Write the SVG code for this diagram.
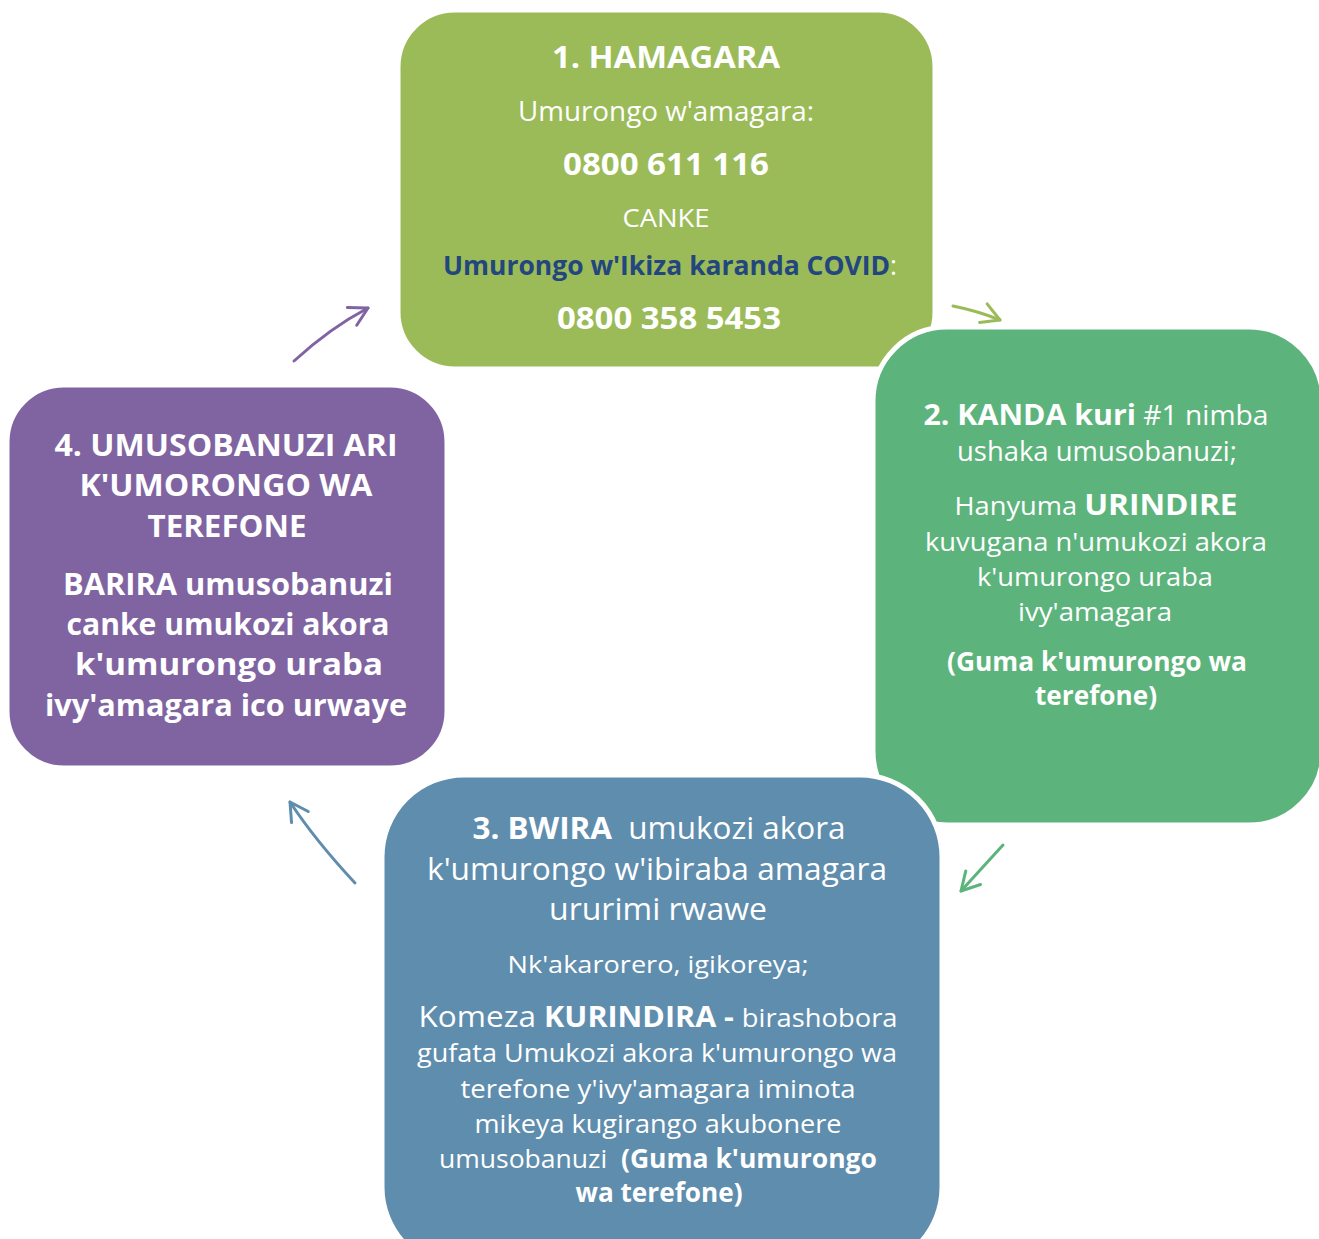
<svg xmlns="http://www.w3.org/2000/svg" width="1319" height="1239" viewBox="0 0 1319 1239">
<defs>
<style>
text{font-family:"Open Sans","Noto Sans","Liberation Sans",sans-serif;fill:#ffffff;text-anchor:middle}
.b{font-weight:bold}
.pre{white-space:pre}
.box{stroke:#ffffff;stroke-width:5}
.conn{fill:none;stroke-width:3;stroke-linecap:round}
</style>
<marker id="hG1" markerUnits="userSpaceOnUse" markerWidth="30" markerHeight="30" refX="0" refY="0" orient="auto" overflow="visible"><path d="M-18,-10 L0,0 L-18,10" fill="none" stroke="#9BBB59" stroke-width="3" stroke-linecap="round" stroke-linejoin="round"/></marker>
<marker id="hG2" markerUnits="userSpaceOnUse" markerWidth="30" markerHeight="30" refX="0" refY="0" orient="auto" overflow="visible"><path d="M-18,-10 L0,0 L-18,10" fill="none" stroke="#5DB37C" stroke-width="3" stroke-linecap="round" stroke-linejoin="round"/></marker>
<marker id="hB" markerUnits="userSpaceOnUse" markerWidth="30" markerHeight="30" refX="0" refY="0" orient="auto" overflow="visible"><path d="M-18,-10 L0,0 L-18,10" fill="none" stroke="#5F8DAD" stroke-width="3" stroke-linecap="round" stroke-linejoin="round"/></marker>
<marker id="hP" markerUnits="userSpaceOnUse" markerWidth="30" markerHeight="30" refX="0" refY="0" orient="auto" overflow="visible"><path d="M-18,-10 L0,0 L-18,10" fill="none" stroke="#8064A2" stroke-width="3" stroke-linecap="round" stroke-linejoin="round"/></marker>
</defs>
<rect width="1319" height="1239" fill="#ffffff"/>

<g id="node1">
<rect class="box" x="398" y="10" width="537" height="359" rx="57" fill="#9BBB59"/>
<text x="666" y="68" class="b" font-size="30" textLength="228" lengthAdjust="spacingAndGlyphs">1. HAMAGARA</text>
<text x="666" y="121" font-size="27" textLength="296" lengthAdjust="spacingAndGlyphs">Umurongo w'amagara:</text>
<text x="666" y="175" class="b" font-size="31" textLength="206" lengthAdjust="spacingAndGlyphs">0800 611 116</text>
<text x="666" y="227" font-size="25" textLength="87" lengthAdjust="spacingAndGlyphs">CANKE</text>
<text x="670" y="275" font-size="27" textLength="454" lengthAdjust="spacingAndGlyphs"><tspan class="b" style="fill:#23467E">Umurongo w'Ikiza karanda COVID</tspan>:</text>
<text x="669" y="329" class="b" font-size="31" textLength="224" lengthAdjust="spacingAndGlyphs">0800 358 5453</text>
</g>

<g id="node2">
<rect class="box" x="873" y="327" width="450" height="498" rx="74" fill="#5DB37C"/>
<text x="1096" y="425" font-size="27" textLength="345" lengthAdjust="spacingAndGlyphs"><tspan class="b" font-size="29">2. KANDA kuri</tspan> #1 nimba</text>
<text x="1097" y="461" font-size="27" textLength="280" lengthAdjust="spacingAndGlyphs">ushaka umusobanuzi;</text>
<text x="1096" y="515" font-size="25" textLength="283" lengthAdjust="spacingAndGlyphs">Hanyuma <tspan class="b" font-size="29">URINDIRE</tspan></text>
<text x="1096" y="551" font-size="26" textLength="342" lengthAdjust="spacingAndGlyphs">kuvugana n'umukozi akora</text>
<text x="1095" y="586" font-size="26" textLength="236" lengthAdjust="spacingAndGlyphs">k'umurongo uraba</text>
<text x="1095" y="621" font-size="26" textLength="154" lengthAdjust="spacingAndGlyphs">ivy'amagara</text>
<text x="1097" y="671" class="b" font-size="26" textLength="300" lengthAdjust="spacingAndGlyphs">(Guma k'umurongo wa</text>
<text x="1096" y="705" class="b" font-size="26" textLength="122" lengthAdjust="spacingAndGlyphs">terefone)</text>
</g>

<g id="node3">
<rect class="box" x="382" y="775" width="560" height="494" rx="82" fill="#5F8DAD"/>
<text x="659" y="839" class="pre" font-size="31" textLength="373" lengthAdjust="spacingAndGlyphs"><tspan class="b">3. BWIRA</tspan>  umukozi akora</text>
<text x="657" y="880" font-size="31" textLength="460" lengthAdjust="spacingAndGlyphs">k'umurongo w'ibiraba amagara</text>
<text x="658" y="920" font-size="31" textLength="218" lengthAdjust="spacingAndGlyphs">ururimi rwawe</text>
<text x="658" y="973" font-size="24" textLength="301" lengthAdjust="spacingAndGlyphs">Nk'akarorero, igikoreya;</text>
<text x="658" y="1027" font-size="26" textLength="479" lengthAdjust="spacingAndGlyphs"><tspan font-size="30">Komeza </tspan><tspan class="b" font-size="29">KURINDIRA - </tspan>birashobora</text>
<text x="657" y="1062" font-size="26" textLength="480" lengthAdjust="spacingAndGlyphs">gufata Umukozi akora k'umurongo wa</text>
<text x="658" y="1098" font-size="26" textLength="395" lengthAdjust="spacingAndGlyphs">terefone y'ivy'amagara iminota</text>
<text x="658" y="1133" font-size="26" textLength="367" lengthAdjust="spacingAndGlyphs">mikeya kugirango akubonere</text>
<text x="658" y="1168" class="pre" font-size="26" textLength="438" lengthAdjust="spacingAndGlyphs">umusobanuzi  <tspan class="b">(Guma k'umurongo</tspan></text>
<text x="659" y="1202" class="b" font-size="26" textLength="167" lengthAdjust="spacingAndGlyphs">wa terefone)</text>
</g>

<g id="node4">
<rect class="box" x="7" y="385" width="440" height="383" rx="57" fill="#8064A2"/>
<text x="226" y="456" class="b" font-size="30" textLength="343" lengthAdjust="spacingAndGlyphs">4. UMUSOBANUZI ARI</text>
<text x="226" y="496" class="b" font-size="30" textLength="293" lengthAdjust="spacingAndGlyphs">K'UMORONGO WA</text>
<text x="227" y="537" class="b" font-size="30" textLength="159" lengthAdjust="spacingAndGlyphs">TEREFONE</text>
<text x="228" y="595" class="b" font-size="30" textLength="330" lengthAdjust="spacingAndGlyphs">BARIRA umusobanuzi</text>
<text x="228" y="635" class="b" font-size="30" textLength="323" lengthAdjust="spacingAndGlyphs">canke umukozi akora</text>
<text x="229" y="675" class="b" font-size="30" textLength="308" lengthAdjust="spacingAndGlyphs">k'umurongo uraba</text>
<text x="226" y="716" class="b" font-size="30" textLength="362" lengthAdjust="spacingAndGlyphs">ivy'amagara ico urwaye</text>
</g>

<g id="connectors">
<path class="conn" stroke="#9BBB59" d="M953,306 Q978,311 1000,320" marker-end="url(#hG1)"/>
<path class="conn" stroke="#5DB37C" d="M1003,845 Q983,867 961,891" marker-end="url(#hG2)"/>
<path class="conn" stroke="#5F8DAD" d="M355,883 Q315,840 290,802" marker-end="url(#hB)"/>
<path class="conn" stroke="#8064A2" d="M294,361 Q330,328 368,308" marker-end="url(#hP)"/>
</g>
</svg>
